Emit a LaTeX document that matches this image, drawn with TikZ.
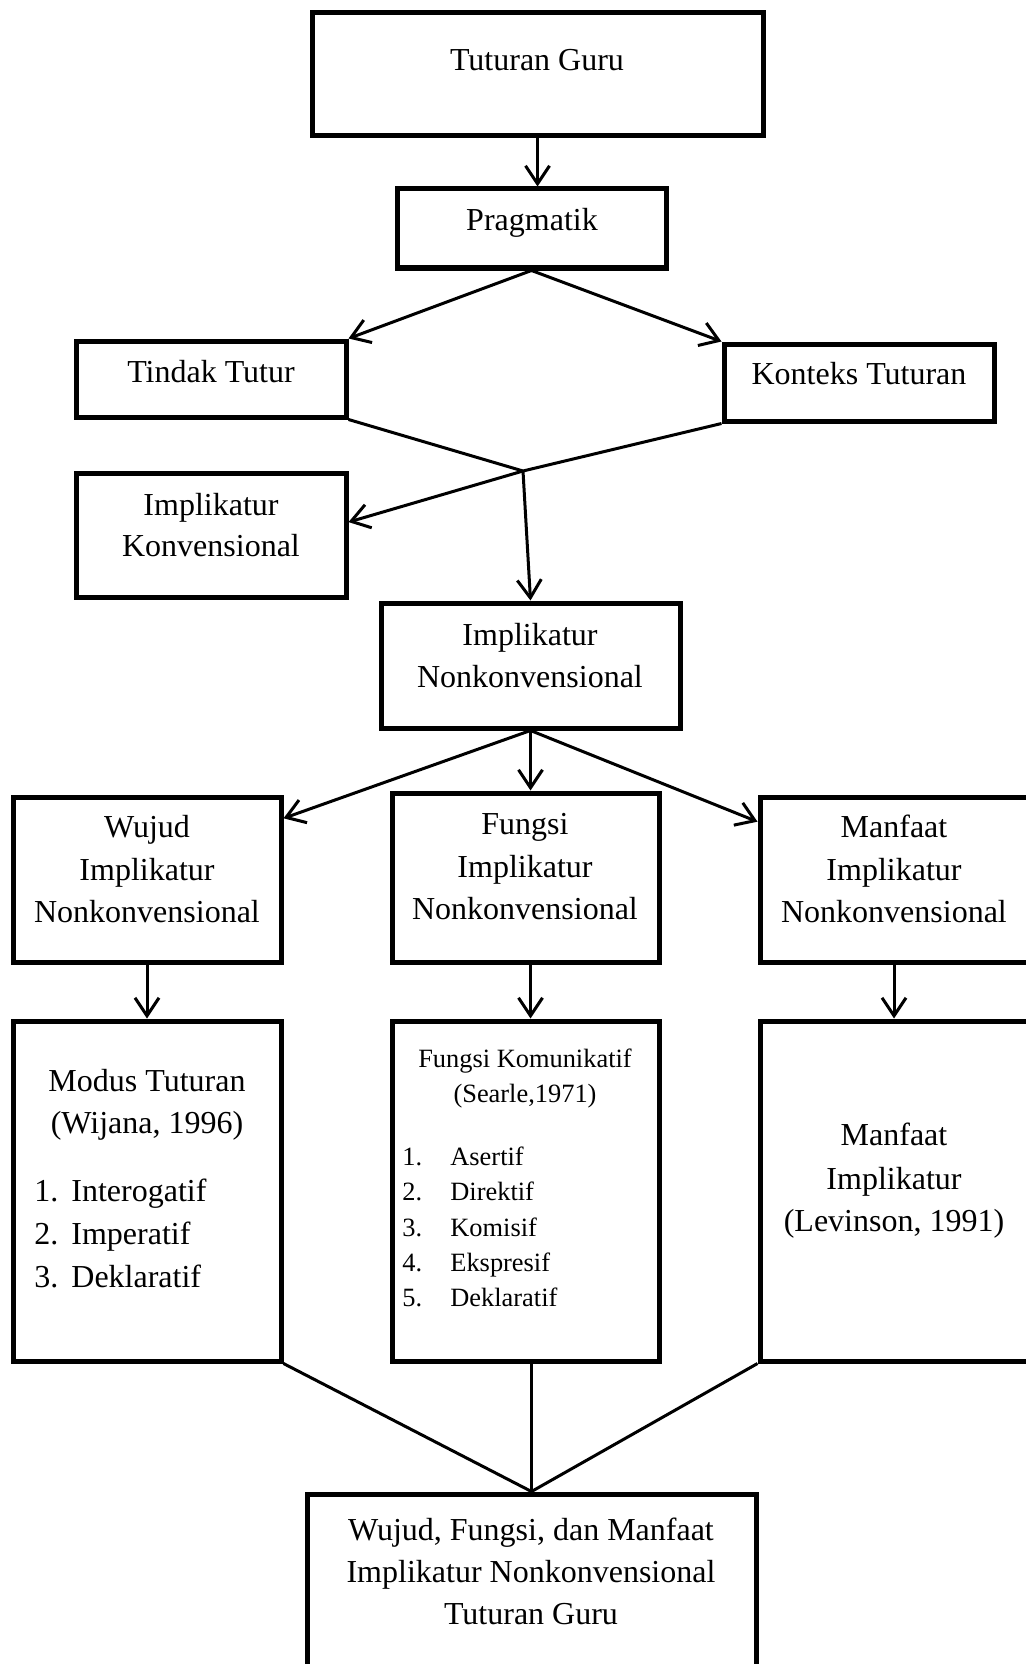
\documentclass[tikz,border=0pt]{standalone}
\usepackage{fontspec}
\setmainfont{Liberation Serif}
\usetikzlibrary{arrows.meta,calc}
\newcommand\boxnode[5]{\node[box,minimum width={(#4-#2)*0.5pt},minimum height={(#5-#3)*0.5pt}] (#1) at ({(#2+#4)/2},{(#3+#5)/2}) {};}
\newcommand\myline[5][txt]{\node[#1] (#2) at (#3,#4) {#5};}
\begin{document}
\begin{tikzpicture}[x=0.5pt,y=-0.5pt,
  box/.style={draw,line width=2.5pt,inner sep=0pt},
  conn/.style={line width=1.5pt},
  arr/.style={conn,-{Straight Barb[length=9pt,width=12pt]}},
  txt/.style={inner sep=0pt,font=\fontsize{16}{21}\selectfont,anchor=base},
  stxt/.style={inner sep=0pt,font=\fontsize{13.2}{17}\selectfont,anchor=base}]
\useasboundingbox (0,0) rectangle (1025,1664);
% boxes
\boxnode{tg}{312}{13}{763}{136}
\boxnode{pr}{397}{189}{666}{268}
\boxnode{tt}{76}{341}{346}{417}
\boxnode{kt}{724}{344}{994}{421}
\boxnode{ik}{76}{473}{346}{597}
\boxnode{ink}{381}{603}{680}{728}
\boxnode{wu}{13}{797}{281}{962}
\boxnode{fu}{392}{793}{659}{962}
\boxnode{ma}{760}{797}{1028}{962}
\boxnode{mo}{13}{1021}{281}{1361}
\boxnode{fk}{392}{1021}{659}{1361}
\boxnode{ml}{760}{1021}{1028}{1361}
\boxnode{fin}{307}{1494}{756}{1700}
\coordinate (j) at (523,471);
% connectors
\draw[arr] (tg.south) -- (tg.south |- pr.north);
\draw[arr] (pr.south) -- (tt.north east);
\draw[arr] (pr.south) -- (kt.north west);
\draw[conn] (tt.south east) -- (j) -- (kt.south west);
\draw[arr] (j) -- ($(ik.north east)!0.4!(ik.south east)$);
\draw[arr] (j) -- (ink.north);
\draw[arr] (ink.south) -- ($(wu.north east)!0.14!(wu.south east)$);
\draw[arr] (ink.south) -- (ink.south |- fu.north);
\draw[arr] (ink.south) -- ($(ma.north west)!0.16!(ma.south west)$);
\draw[arr] (wu.south) -- (mo.north);
\draw[arr] (ink.south |- fu.south) -- (ink.south |- fk.north);
\draw[arr] (ma.south) -- (ml.north);
\draw[conn] (mo.south east) -- (fin.north);
\draw[conn] (fin.north |- fk.south) -- (fin.north);
\draw[conn] (ml.south west) -- (fin.north);
% texts
\myline{t1}{537}{71}{Tuturan Guru}
\myline{t2}{532}{231}{Pragmatik}
\myline{t3}{211}{382}{Tindak Tutur}
\myline{t4}{859}{384}{Konteks Tuturan}
\myline{t5}{211}{515}{Implikatur}
\myline{t6}{211}{556}{Konvensional}
\myline{t7}{530}{645}{Implikatur}
\myline{t8}{530}{687}{Nonkonvensional}
\myline{wu1}{147}{837}{Wujud}
\myline{wu2}{147}{880}{Implikatur}
\myline{wu3}{147}{922}{Nonkonvensional}
\myline{fu1}{525}{834}{Fungsi}
\myline{fu2}{525}{877}{Implikatur}
\myline{fu3}{525}{919}{Nonkonvensional}
\myline{ma1}{894}{837}{Manfaat}
\myline{ma2}{894}{880}{Implikatur}
\myline{ma3}{894}{922}{Nonkonvensional}
\myline{mo1}{147}{1091}{Modus Tuturan}
\myline{mo2}{147}{1133}{(Wijana, 1996)}
\myline[txt,anchor=base west]{mo3}{34}{1201}{1.}
\myline[txt,anchor=base west]{mo4}{71}{1201}{Interogatif}
\myline[txt,anchor=base west]{mo5}{34}{1244}{2.}
\myline[txt,anchor=base west]{mo6}{71}{1244}{Imperatif}
\myline[txt,anchor=base west]{mo7}{34}{1287}{3.}
\myline[txt,anchor=base west]{mo8}{71}{1287}{Deklaratif}
\myline[stxt]{fk1}{525}{1067}{Fungsi Komunikatif}
\myline[stxt]{fk2}{525}{1102}{(Searle,1971)}
\myline[stxt,anchor=base west]{fk3}{402}{1165}{1.}
\myline[stxt,anchor=base west]{fk4}{450}{1165}{Asertif}
\myline[stxt,anchor=base west]{fk5}{402}{1200}{2.}
\myline[stxt,anchor=base west]{fk6}{450}{1200}{Direktif}
\myline[stxt,anchor=base west]{fk7}{402}{1236}{3.}
\myline[stxt,anchor=base west]{fk8}{450}{1236}{Komisif}
\myline[stxt,anchor=base west]{fk9}{402}{1271}{4.}
\myline[stxt,anchor=base west]{fk10}{450}{1271}{Ekspresif}
\myline[stxt,anchor=base west]{fk11}{402}{1306}{5.}
\myline[stxt,anchor=base west]{fk12}{450}{1306}{Deklaratif}
\myline{ml1}{894}{1145}{Manfaat}
\myline{ml2}{894}{1189}{Implikatur}
\myline{ml3}{894}{1231}{(Levinson, 1991)}
\myline{fin1}{531}{1540}{Wujud, Fungsi, dan Manfaat}
\myline{fin2}{531}{1582}{Implikatur Nonkonvensional}
\myline{fin3}{531}{1624}{Tuturan Guru}
\end{tikzpicture}
\end{document}
